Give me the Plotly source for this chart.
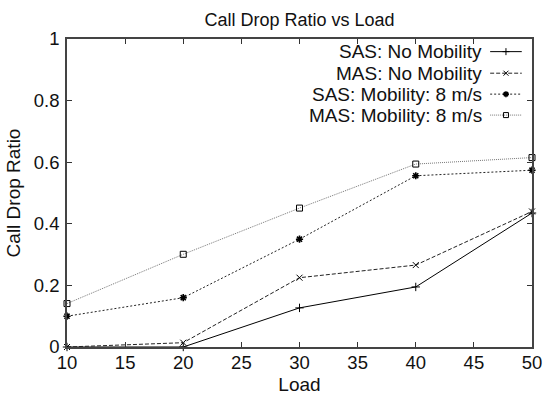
import plotly.graph_objects as go

load = [10, 20, 30, 40, 50]
sas_no_mob = [0.0, 0.0, 0.127, 0.195, 0.435]
mas_no_mob = [0.0, 0.014, 0.225, 0.266, 0.44]
sas_mob = [0.10, 0.16, 0.35, 0.556, 0.574]
mas_mob = [0.141, 0.301, 0.451, 0.594, 0.615]

names = ["SAS: No Mobility", "MAS: No Mobility", "SAS: Mobility: 8 m/s", "MAS: Mobility: 8 m/s"]
series = [sas_no_mob, mas_no_mob, sas_mob, mas_mob]
styles = [
    dict(color="#000000", dash="solid", symbol="cross-thin", size=6, mlw=1),
    dict(color="#222222", dash="4px,2px", symbol="x-thin", size=6, mlw=1),
    dict(color="#222222", dash="2px,2px", symbol="asterisk", size=6, mlw=1.6),
    dict(color="#777777", dash="1px,1px", symbol="square-open", size=6, mlw=1),
]

FONT = "Liberation Sans, Arial, Helvetica, sans-serif"
fig = go.Figure()

for name, ys, st in zip(names, series, styles):
    fig.add_trace(go.Scatter(
        x=load, y=ys, mode="lines+markers", name=name, showlegend=False,
        line=dict(color=st["color"], width=1, dash=st["dash"]),
        marker=dict(symbol=st["symbol"], size=st["size"], color="#000000",
                    line=dict(color="#000000", width=st["mlw"])),
        cliponaxis=False,
    ))

# custom gnuplot-style legend (text left, sample right)
legend_rows = [0.959, 0.889, 0.821, 0.753]
for name, st, ry in zip(names, styles, legend_rows):
    fig.add_trace(go.Scatter(
        x=[0.910, 0.944, 0.978], y=[ry, ry, ry], xaxis="x2", yaxis="y2",
        mode="lines", showlegend=False, hoverinfo="skip",
        line=dict(color=st["color"], width=1, dash=st["dash"]),
    ))
    fig.add_trace(go.Scatter(
        x=[0.944], y=[ry], xaxis="x2", yaxis="y2",
        mode="markers", showlegend=False, hoverinfo="skip",
        marker=dict(symbol=st["symbol"], size=5, color="#000000",
                    line=dict(color="#000000", width=st["mlw"])),
    ))
    fig.add_annotation(x=0.897, y=ry, xref="x2", yref="y2", text=name,
                       showarrow=False, xanchor="right", yanchor="middle",
                       font=dict(family=FONT, size=19, color="#111111"))

fig.update_layout(
    width=543, height=395,
    margin=dict(l=67, r=11, t=39, b=48),
    paper_bgcolor="white", plot_bgcolor="white",
    font=dict(family=FONT, size=18, color="#111111"),
    title=dict(text="Call Drop Ratio vs Load", x=0.5, xref="paper", xanchor="center",
               y=0.949, yref="container", yanchor="middle",
               font=dict(family=FONT, size=18)),
    xaxis=dict(range=[10, 50], tickvals=[10, 15, 20, 25, 30, 35, 40, 45, 50],
               ticks="inside", ticklen=5, tickcolor="#333", mirror="ticks",
               showline=True, linecolor="#444", linewidth=1.5, showgrid=False,
               zeroline=False, automargin=False,
               title=dict(text="Load", standoff=8, font=dict(size=19)),
               tickfont=dict(size=18.5), ticklabelstandoff=-2),
    yaxis=dict(range=[0, 1], tickvals=[0, 0.2, 0.4, 0.6, 0.8, 1],
               ticktext=["0", "0.2", "0.4", "0.6", "0.8", "1"],
               ticks="inside", ticklen=5, tickcolor="#333", mirror="ticks",
               showline=True, linecolor="#444", linewidth=1.5, showgrid=False,
               zeroline=False, automargin=False,
               title=dict(text="Call Drop Ratio", standoff=8, font=dict(size=19)),
               tickfont=dict(size=18.5), ticklabelstandoff=2),
    xaxis2=dict(overlaying="x", range=[0, 1], visible=False, fixedrange=True),
    yaxis2=dict(overlaying="y", range=[0, 1], visible=False, fixedrange=True),
)

fig.write_html("out.html")
